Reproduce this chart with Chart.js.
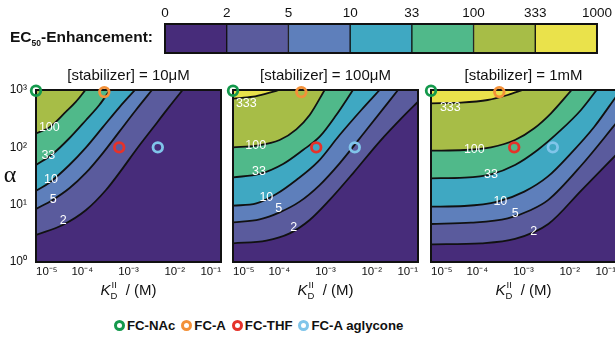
<!DOCTYPE html>
<html>
<head>
<meta charset="utf-8">
<script src="https://cdn.jsdelivr.net/npm/chart.js@4.4.1/dist/chart.umd.min.js"></script>
<style>
  html, body { margin: 0; padding: 0; background: #fff; width: 615px; height: 338px; overflow: hidden; position: relative;
    font-family: Arial, "Liberation Sans", Helvetica, sans-serif; color: #111; }
  canvas { position: absolute; }
  #cbLabel { position: absolute; left: 0; top: 28px; width: 153px; text-align: right; font-weight: bold; font-size: 15.5px; white-space: nowrap; }
  #cbLabel sub { font-size: 8.5px; }
  #legend { position: absolute; left: 114px; top: 318px; display: flex; align-items: center; gap: 6px;
    font-weight: bold; font-size: 13.2px; white-space: nowrap; }
  #legend .ring { display: inline-block; width: 5px; height: 5px; border: 3px solid; border-radius: 50%; margin-right: 2px; vertical-align: -1px; }
</style>
</head>
<body>
<canvas id="cb" width="615" height="60" style="left:0;top:0"></canvas>
<div id="cbLabel">EC<sub>50</sub>-Enhancement:</div>
<canvas id="p1" width="251" height="250" style="left:0;top:60px"></canvas>
<canvas id="p2" width="251" height="250" style="left:197px;top:60px"></canvas>
<canvas id="p3" width="251" height="250" style="left:395px;top:60px"></canvas>
<div id="legend"></div>

<script>
// ---------------- DATA ----------------
// colour bar
const cbTickLabels = ["0", "2", "5", "10", "33", "100", "333", "1000"];
const cbSegments = [1, 1, 1, 1, 1, 1, 1];
const levelColors = ["#472c7a", "#5a5b9d", "#5e7fbb", "#3fa8c2", "#50b98a", "#a7bd47", "#eae24b"];

// axes
const xTickVals = [1e-5, 1e-4, 1e-3, 1e-2, 1e-1];
const xTickLabels = ["10⁻⁵", "10⁻⁴", "10⁻³", "10⁻²", "10⁻¹"];
const yTickVals = [1, 10, 100, 1000];
const yTickLabels = ["10⁰", "10¹", "10²", "10³"];

// compounds (K_D, alpha)
const compoundNames = ["FC-NAc", "FC-A", "FC-THF", "FC-A aglycone"];
const compoundColors = ["#14994c", "#f39139", "#e5322a", "#80c5ea"];
const compoundKd = [1e-5, 3.0e-4, 6.3e-4, 4.3e-3];
const compoundAlpha = [970, 920, 100, 100];

// contour lines, [K_D, alpha] — [stabilizer] = 10 µM
const p1_c2 = [[1e-5, 2.96], [3.77e-5, 4.42], [1.21e-4, 8.07], [3.26e-4, 18.0], [7.48e-4, 43.0], [1.45e-3, 89.8], [3.33e-3, 215], [7.64e-3, 512], [1.48e-2, 1000]];
const p1_c5 = [[1e-5, 8.40], [2.29e-5, 12.1], [5.26e-5, 19.3], [1.21e-4, 36.1], [2.76e-4, 78.6], [6.34e-4, 188], [1.45e-3, 448], [3.22e-3, 1000]];
const p1_c10 = [[1e-5, 17.5], [1.94e-5, 24.2], [5.26e-5, 49.2], [1.21e-4, 100], [2.76e-4, 223], [6.34e-4, 499], [1.38e-3, 1000]];
const p1_c33 = [[1e-5, 49.2], [2.29e-5, 76.5], [5.26e-5, 144], [1.21e-4, 300], [2.34e-4, 547], [3.98e-4, 1000]];
const p1_c100 = [[1e-5, 175], [1.94e-5, 223], [4.45e-5, 419], [7.33e-5, 626], [1.17e-4, 1000]];
const p1_labels = [[1.94e-5, 220, "100"], [1.85e-5, 70.6, "33"], [2.11e-5, 26.9, "10"], [2.37e-5, 12.4, "5"], [3.90e-5, 5.19, "2"]];

// [stabilizer] = 100 µM
const p2_c2 = [[1e-5, 2.12], [5.26e-5, 2.36], [1.68e-4, 3.16], [4.55e-4, 5.40], [1.23e-3, 12.1], [3.93e-3, 35.2], [1.48e-2, 126], [4.74e-2, 343], [1e-1, 626]];
const p2_c5 = [[1e-5, 4.92], [3.77e-5, 5.55], [1.02e-4, 7.35], [2.76e-4, 11.3], [7.48e-4, 22.0], [2.02e-3, 52.6], [7.64e-3, 201], [3.70e-2, 1000]];
const p2_c10 = [[1e-5, 9.61], [3.19e-5, 10.5], [8.65e-5, 15.3], [2.34e-4, 26.9], [6.88e-4, 56.2], [2.02e-3, 164], [5.95e-3, 448], [1.48e-2, 1000]];
const p2_c33 = [[1e-5, 30.0], [3.77e-5, 34.3], [1.21e-4, 51.2], [3.26e-4, 89.8], [7.48e-4, 153], [1.71e-3, 366], [3.93e-3, 1000]];
const p2_c100 = [[1e-5, 100], [3.19e-5, 107], [1.02e-4, 134], [2.34e-4, 206], [4.55e-4, 366], [9.59e-4, 1000]];
const p2_c333 = [[1e-5, 706], [2.71e-5, 765], [6.21e-5, 899], [1.02e-4, 1000]];
const p2_labels = [[1.94e-5, 570, "333"], [3.09e-5, 108, "100"], [3.65e-5, 37.1, "33"], [5.26e-5, 13.4, "10"], [9.71e-5, 8.5, "5"], [2.05e-4, 4.03, "2"]];

// [stabilizer] = 1 mM
const p3_c2 = [[1e-5, 2.03], [1.21e-4, 2.12], [6.55e-4, 2.52], [3.44e-3, 4.60], [1.81e-2, 18.0], [1e-1, 73.5]];
const p3_c5 = [[1e-5, 4.60], [7.33e-5, 4.85], [4.55e-4, 5.78], [1.45e-3, 8.07], [3.44e-3, 12.1], [1.81e-2, 49.2], [1e-1, 262]];
const p3_c10 = [[1e-5, 9.23], [5.26e-5, 9.48], [2.76e-4, 11.3], [1.04e-3, 16.9], [3.33e-3, 30.8], [1.06e-2, 78.6], [3.40e-2, 229], [1e-1, 765]];
const p3_c33 = [[1e-5, 28.8], [5.26e-5, 29.6], [1.98e-4, 33.8], [6.55e-4, 49.2], [2.02e-3, 89.8], [6.47e-3, 201], [1.75e-2, 448], [3.82e-2, 1000]];
const p3_c100 = [[1e-5, 87.5], [5.26e-5, 89.8], [1.98e-4, 100], [6.55e-4, 134], [1.71e-3, 215], [3.93e-3, 392], [1.10e-2, 1000]];
const p3_c333 = [[1e-5, 585], [4.45e-5, 601], [1.68e-4, 669], [4.55e-4, 818], [9.59e-4, 1000]];
const p3_labels = [[2.62e-5, 499, "333"], [8.65e-5, 92.3, "100"], [1.98e-4, 32.9, "33"], [3.16e-4, 11.3, "10"], [6.65e-4, 7.06, "5"], [1.66e-3, 3.38, "2"]];

// ---------------- SETUP ----------------
const FONT = 'Arial, "Liberation Sans", Helvetica, sans-serif';
Chart.defaults.font.family = FONT;
Chart.defaults.color = "#111";

// legend (html)
const legendEl = document.getElementById("legend");
compoundNames.forEach((name, i) => {
  legendEl.innerHTML += `<span><span class="ring" style="border-color:${compoundColors[i]}"></span>${name}</span>`;
});

// ---------------- COLOUR BAR ----------------
new Chart(document.getElementById("cb"), {
  type: "bar",
  data: {
    labels: [""],
    datasets: cbSegments.map((v, i) => ({
      data: [v],
      backgroundColor: levelColors[i],
      borderColor: "#111",
      borderWidth: 1,
      borderSkipped: false,
      barPercentage: 1,
      categoryPercentage: 1
    }))
  },
  options: {
    indexAxis: "y",
    responsive: false,
    animation: false,
    devicePixelRatio: 1,
    layout: { padding: { left: 165, right: 17, top: 0, bottom: 7 } },
    plugins: { legend: { display: false }, tooltip: { enabled: false } },
    scales: {
      x: {
        type: "linear", position: "top", stacked: true, min: 0, max: 7,
        grid: { display: false, drawTicks: false }, border: { display: false },
        afterFit: s => { s.height = 24; },
        ticks: { stepSize: 1, autoSkip: false, maxRotation: 0, padding: 3, font: { size: 13.5 },
          callback: v => cbTickLabels[v] }
      },
      y: { stacked: true, display: false }
    }
  },
  plugins: [{
    id: "cbFrame",
    afterDatasetsDraw(chart) {
      const a = chart.chartArea, c = chart.ctx;
      c.save();
      c.strokeStyle = "#111";
      c.lineWidth = 2;
      c.strokeRect(a.left, a.top, a.width, a.height);
      c.restore();
    }
  }]
});

// ---------------- PANELS ----------------
function drawKdTitle(c, cx, baseY) {
  c.save();
  c.fillStyle = "#111";
  c.textBaseline = "alphabetic";
  c.textAlign = "left";
  const fK = "italic 15px " + FONT, fS = "9.5px " + FONT, fR = "15px " + FONT;
  c.font = fK; const wK = c.measureText("K").width;
  c.font = fS; const wD = c.measureText("D").width, wII = c.measureText("II").width;
  c.font = fR; const wR = c.measureText("  / (M)").width;
  const wS = Math.max(wD, wII);
  let x = cx - (wK + wS + wR) / 2;
  c.font = fK; c.fillText("K", x, baseY); x += wK;
  c.font = fS; c.fillText("D", x, baseY + 4); c.fillText("II", x + 1, baseY - 7); x += wS;
  c.font = fR; c.fillText("  / (M)", x, baseY);
  c.restore();
}

const overlay = {
  id: "overlay",
  beforeDatasetsDraw(chart) {
    const a = chart.chartArea, c = chart.ctx;
    c.save();
    c.fillStyle = levelColors[0];
    c.fillRect(a.left, a.top, a.width, a.height);
    c.restore();
    chart.$overlayDone = false;
  },
  beforeDatasetDraw(chart, args, opts) {
    if (args.meta.type !== "scatter" || chart.$overlayDone) return;
    chart.$overlayDone = true;
    const a = chart.chartArea, c = chart.ctx;
    const xs = chart.scales.x, ys = chart.scales.y;
    c.save();
    // contour labels
    c.fillStyle = "#fff";
    c.font = "12.5px " + FONT;
    c.textAlign = "center";
    c.textBaseline = "middle";
    opts.labels.forEach(l => c.fillText(l[2], xs.getPixelForValue(l[0]), ys.getPixelForValue(l[1])));
    // frame
    c.strokeStyle = "#111";
    c.lineWidth = 2;
    c.strokeRect(a.left, a.top, a.width, a.height);
    c.restore();
  },
  afterDraw(chart, args, opts) {
    const a = chart.chartArea, c = chart.ctx;
    c.save();
    c.fillStyle = "#111";
    c.font = "15px " + FONT;
    c.textAlign = "center";
    c.textBaseline = "alphabetic";
    c.fillText(opts.title, (a.left + a.right) / 2, a.top - 10);
    if (opts.alpha) {
      c.font = '24px "Liberation Serif", "DejaVu Serif", serif';
      c.fillText("α", 10, a.top + 92);
    }
    c.restore();
    drawKdTitle(c, (a.left + a.right) / 2, a.bottom + 33);
  }
};

function makePanel(id, contours, labels, title, showY) {
  const datasets = contours.map((pts, k) => ({
    type: "line",
    data: pts.map(p => ({ x: p[0], y: p[1] })),
    borderColor: "#111",
    borderWidth: 1.8,
    pointRadius: 0,
    fill: "end",
    backgroundColor: levelColors[k + 1],
    cubicInterpolationMode: "monotone",
    order: 20 - k
  }));
  compoundNames.forEach((name, i) => {
    datasets.push({
      type: "scatter",
      label: name,
      data: [{ x: compoundKd[i], y: compoundAlpha[i] }],
      pointRadius: 4.8,
      pointBorderWidth: 2.8,
      pointBorderColor: compoundColors[i],
      pointBackgroundColor: "rgba(0,0,0,0)",
      clip: false,
      order: 0
    });
  });

  new Chart(document.getElementById(id), {
    type: "scatter",
    data: { datasets },
    options: {
      responsive: false,
      animation: false,
      devicePixelRatio: 1,
      layout: { padding: { left: 0, right: 30, top: 30, bottom: 0 } },
      plugins: {
        legend: { display: false },
        tooltip: { enabled: false },
        overlay: { title, labels, alpha: showY }
      },
      scales: {
        x: {
          type: "logarithmic", min: 1e-5, max: 1e-1,
          grid: { display: false, drawTicks: false }, border: { display: false },
          afterBuildTicks: s => { s.ticks = xTickVals.map(v => ({ value: v })); },
          afterFit: s => { s.height = 48; },
          ticks: { autoSkip: false, maxRotation: 0, align: "inner", padding: 3, font: { size: 11.5 },
            callback: (v, i) => xTickLabels[i] }
        },
        y: {
          type: "logarithmic", min: 1, max: 1000,
          grid: { display: false, drawTicks: false }, border: { display: false },
          afterBuildTicks: s => { s.ticks = yTickVals.map(v => ({ value: v })); },
          afterFit: s => { s.width = 36; },
          ticks: { display: showY, padding: 9, font: { size: 12 },
            callback: (v, i) => yTickLabels[i] }
        }
      }
    },
    plugins: [overlay]
  });
}

makePanel("p1", [p1_c2, p1_c5, p1_c10, p1_c33, p1_c100], p1_labels, "[stabilizer] = 10μM", true);
makePanel("p2", [p2_c2, p2_c5, p2_c10, p2_c33, p2_c100, p2_c333], p2_labels, "[stabilizer] = 100μM", false);
makePanel("p3", [p3_c2, p3_c5, p3_c10, p3_c33, p3_c100, p3_c333], p3_labels, "[stabilizer] = 1mM", false);
</script>
</body>
</html>
